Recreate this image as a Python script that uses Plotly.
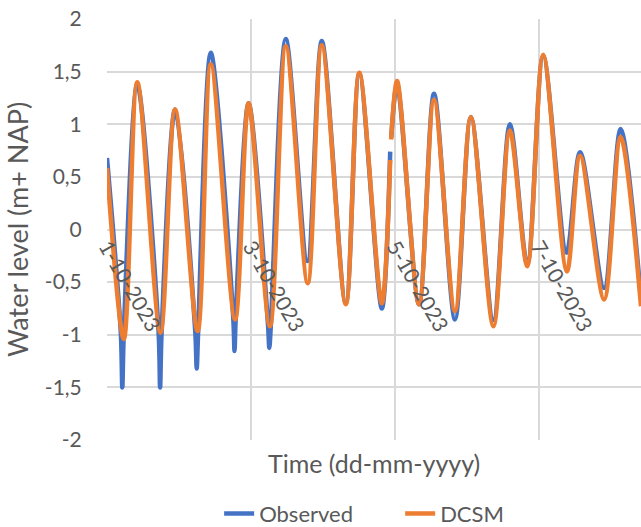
import pandas as pd
import plotly.graph_objects as go

# ---- data (hours after 2023-10-01 00:00, water level in m + NAP) ----
start_time = pd.Timestamp("2023-10-01 00:00")
end_hours = 178.0

observed_hours = [0.0, 4.6, 5.1, 5.6, 10.1, 17.2, 17.7, 18.2, 22.7, 29.4, 29.9, 30.4,
                  34.6, 42.1, 42.5, 42.9, 47.2, 53.7, 54.1, 54.6, 59.6, 66.8, 71.6,
                  79.6, 84.1, 91.6, 94.4, 94.55, 94.75, 96.7, 104.0, 109.0, 116.0,
                  121.3, 128.8, 134.3, 140.1, 145.4, 153.2, 157.7, 165.7, 171.2, 178.0]
observed_level = [0.68, -0.98, -1.50, -0.98, 1.38, -0.98, -1.50, -0.98, 1.14, -0.96, -1.32, -0.96,
                  1.68, -0.85, -1.155, -0.85, 1.20, -0.92, -1.125, -0.92, 1.81, -0.30, 1.79,
                  -0.70, 1.48, -0.75, 0.74, None, 0.87, 1.38, -0.71, 1.29, -0.855,
                  1.07, -0.86, 1.00, -0.33, 1.65, -0.22, 0.735, -0.555, 0.955, -0.66]

dcsm_hours = [0.0, 5.6, 10.1, 17.8, 22.7, 30.2, 34.6, 42.7, 47.2, 54.3, 59.6, 66.9,
              71.6, 79.6, 84.1, 91.6, 94.4, 94.55, 94.7, 96.7, 104.0, 109.0, 116.0,
              121.3, 128.8, 134.3, 140.1, 145.4, 153.3, 157.7, 165.7, 171.2, 178.0]
dcsm_level = [0.585, -1.04, 1.40, -0.98, 1.14, -0.965, 1.57, -0.855, 1.20, -0.92, 1.74, -0.51,
              1.75, -0.71, 1.49, -0.70, 0.66, None, 0.855, 1.41, -0.71, 1.23, -0.775,
              1.07, -0.92, 0.94, -0.35, 1.66, -0.40, 0.70, -0.665, 0.88, -0.73]

y_tick_values = [-2, -1.5, -1, -0.5, 0, 0.5, 1, 1.5, 2]
y_tick_labels = ["-2", "-1,5", "-1", "-0,5", "0", "0,5", "1", "1,5", "2"]

series_names = ["Observed", "DCSM"]
series_colors = ["#4472C4", "#ED7D31"]

# ---- build ----
def to_time(hours):
    return [start_time + pd.Timedelta(hours=h) for h in hours]

FONT = "Lato"
TXT = "#595959"
GRID = "#D9D9D9"

fig = go.Figure()
for name, color, hrs, lvl in [
    (series_names[0], series_colors[0], observed_hours, observed_level),
    (series_names[1], series_colors[1], dcsm_hours, dcsm_level),
]:
    fig.add_trace(go.Scatter(
        x=to_time(hrs), y=lvl, mode="lines", name=name,
        line=dict(color=color, width=4.5, shape="spline", smoothing=0.9),
        connectgaps=False,
    ))

fig.update_layout(
    width=641, height=527,
    margin=dict(l=107, r=0, t=19, b=87, autoexpand=False),
    paper_bgcolor="white", plot_bgcolor="white",
    font=dict(family=FONT, color=TXT),
    showlegend=True,
    legend=dict(orientation="h", x=0.21, xanchor="left", y=-0.175, yanchor="middle",
                font=dict(size=22, color=TXT), bgcolor="rgba(0,0,0,0)",
                itemwidth=30, tracegroupgap=0, entrywidth=136),
    xaxis=dict(
        type="date",
        range=[start_time, start_time + pd.Timedelta(hours=end_hours)],
        tick0="2023-10-01", dtick=2 * 86400000,
        tickformat="%-d-%-m-%Y", tickangle=60,
        showgrid=True, gridcolor=GRID, gridwidth=1.5,
        showline=False, zeroline=False, ticks="",
        anchor="free", position=0.5,
        tickfont=dict(family=FONT, size=21, color=TXT),
        automargin=False,
    ),
    yaxis=dict(
        range=[-2, 2], tickvals=y_tick_values, ticktext=y_tick_labels,
        showgrid=True, gridcolor=GRID, gridwidth=1.5,
        zeroline=False, showline=False,
        ticks="outside", ticklen=20, tickcolor="rgba(0,0,0,0)",
        tickfont=dict(family=FONT, size=21, color=TXT),
        title=dict(text="Water level (m+ NAP)", font=dict(family=FONT, size=27, color=TXT), standoff=8),
        automargin=False,
    ),
    annotations=[dict(
        text="Time (dd-mm-yyyy)", xref="paper", yref="paper", x=0.5, y=-0.055,
        xanchor="center", yanchor="middle", showarrow=False,
        font=dict(family=FONT, size=25, color=TXT),
    )],
)

fig.write_html("out.html")
